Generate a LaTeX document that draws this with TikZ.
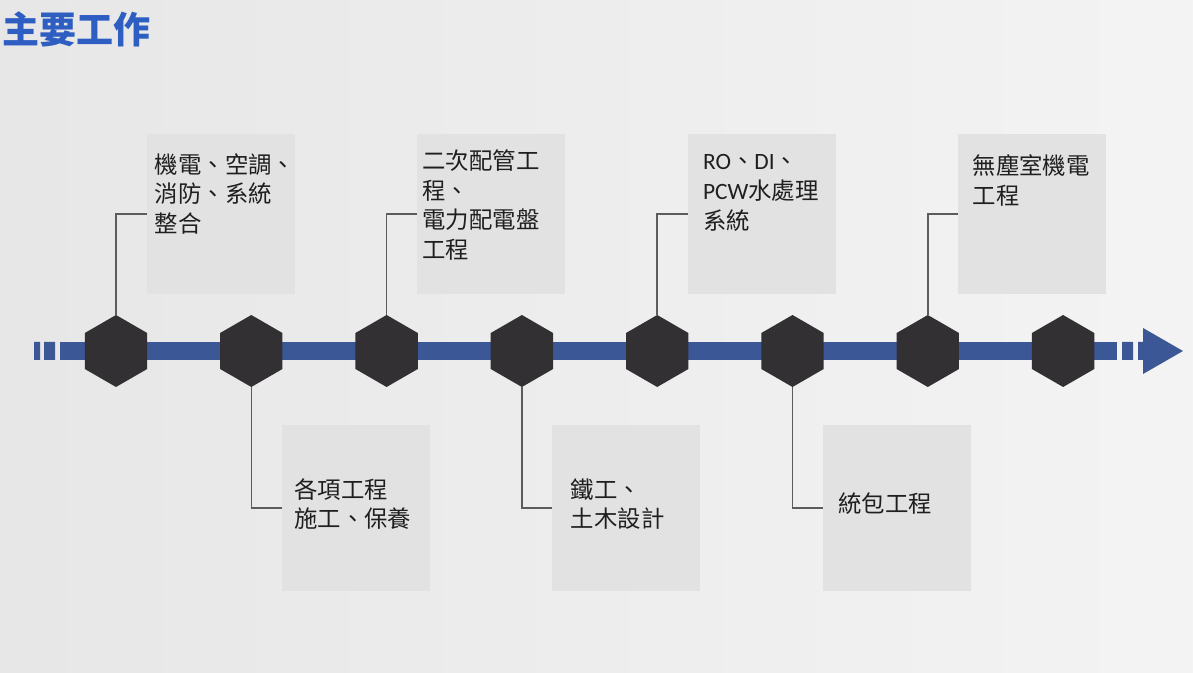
\documentclass[tikz,border=0pt]{standalone}
\usepackage{fontspec}
\setmainfont{Carlito}
\newfontfamily\cjk{Noto Sans CJK TC}
\usetikzlibrary{calc,positioning,shapes.geometric}
\definecolor{BarClr}{rgb}{0.23,0.34,0.59}
\definecolor{HexClr}{rgb}{0.2,0.19,0.2}
\definecolor{CardClr}{rgb}{0.885,0.885,0.885}
\definecolor{LinkClr}{rgb}{0.36,0.36,0.36}
\definecolor{TitleClr}{rgb}{0.18,0.37,0.76}
\definecolor{BgLeft}{rgb}{0.905,0.905,0.905}
\definecolor{BgRight}{rgb}{0.955,0.955,0.955}

\begin{document}
\begin{tikzpicture}[x=0.5pt,y=-0.5pt,
  hexa/.style={regular polygon,regular polygon sides=6,shape border rotate=30,
    minimum size=36pt,inner sep=0pt,outer sep=0pt,fill=HexClr},
  card/.style={rectangle,fill=CardClr,minimum width=74pt,inner sep=0pt,outer sep=0pt},
  topcard/.style={card,minimum height=80pt},
  botcard/.style={card,minimum height=83pt},
  link/.style={LinkClr,line width=0.75pt},
  txt/.style={inner sep=0pt,align=left,text=black!88,
    font=\cjk\fontsize{11.7pt}{14.9pt}\selectfont}]

\useasboundingbox (0,0) rectangle (1193,673);
\shade[left color=BgLeft,right color=BgRight] (0,0) rectangle (1193,673);

\node[anchor=west,inner sep=0pt,text=TitleClr,font=\cjk\bfseries\fontsize{18.5pt}{22pt}\selectfont] (title) at (2,29) {主要工作};

% time line
\coordinate (start) at (60,351);
\coordinate (stop) at (1117,351);
\draw[BarClr,line width=9pt] (start) -- (stop);
\fill[BarClr] (34,342) rectangle (40,360) (44,342) rectangle (55,360);
\fill[BarClr] (1122,342) rectangle (1133,360) (1138,342) rectangle (1144,360);
\fill[BarClr] (1143,328) -- (1183,351) -- (1143,374) -- cycle;

\foreach \i in {1,...,8}
  \node[hexa] (h\i) at ({116+135.3*(\i-1)},351) {};

\node[topcard] (b1) at ($(h1)+(104.5,-137)$) {};
\node[botcard] (b2) at ($(h2)+(104.5,157)$) {};
\node[topcard] (b3) at ($(h3)+(104.5,-137)$) {};
\node[botcard] (b4) at ($(h4)+(104.5,157)$) {};
\node[topcard] (b5) at ($(h5)+(104.5,-137)$) {};
\node[botcard] (b6) at ($(h6)+(104.5,157)$) {};
\node[topcard] (b7) at ($(h7)+(104.5,-137)$) {};

\draw[link] (h1.north) |- (b1.west);
\draw[link] (h2.south) |- (b2.west);
\draw[link] (h3.north) |- (b3.west);
\draw[link] (h4.south) |- (b4.west);
\draw[link] (h5.north) |- (b5.west);
\draw[link] (h6.south) |- (b6.west);
\draw[link] (h7.north) |- (b7.west);

\node[txt,anchor=north west] (t1) at ($(b1.north west)+(8,19)$) {機電、空調、\\消防、系統\\整合};
\node[txt,anchor=west] (t2) at ($(b2.west)+(12,-4)$) {各項工程\\施工、保養};
\node[txt,anchor=north west] (t3) at ($(b3.north west)+(5,15)$) {二次配管工\\程、\\電力配電盤\\工程};
\node[txt,anchor=west] (t4) at ($(b4.west)+(18,-4)$) {鐵工、\\土木設計};
\node[txt,anchor=north west] (t5) at ($(b5.north west)+(15,20)$) {{\rmfamily RO}、{\rmfamily DI}、\\{\rmfamily PCW}水處理\\系統};
\node[txt,anchor=north west] (t7) at ($(b7.north west)+(14,20)$) {無塵室機電\\工程};
\node[txt,anchor=west] (t6) at ($(b6.west)+(15,-4)$) {統包工程};

\end{tikzpicture}
\end{document}
